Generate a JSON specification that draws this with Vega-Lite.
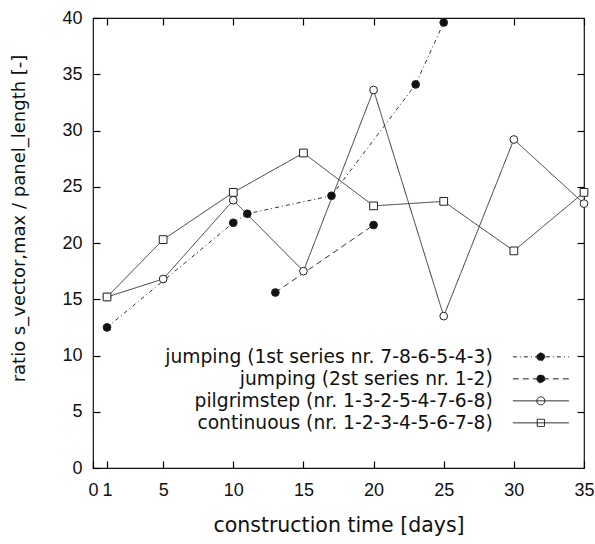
{
  "$schema": "https://vega.github.io/schema/vega-lite/v6.json",
  "width": 491,
  "height": 450,
  "autosize": {"type": "none"},
  "padding": {"left": 93, "top": 18, "right": 11, "bottom": 76},
  "background": "white",
  "config": {
    "view": {"stroke": "#111", "strokeWidth": 1.2, "fill": "transparent"},
    "axis": {"grid": false, "domain": false, "ticks": true, "tickColor": "black", "tickWidth": 1.2, "tickOpacity": 1, "labelColor": "#111", "titleColor": "#111", "zindex": 1}
  },
  "data": {
    "values": [
      {"series": "jumping (1st series nr. 7-8-6-5-4-3)", "x": 1, "y": 12.5},
      {"series": "jumping (1st series nr. 7-8-6-5-4-3)", "x": 10, "y": 21.8},
      {"series": "jumping (1st series nr. 7-8-6-5-4-3)", "x": 11, "y": 22.6},
      {"series": "jumping (1st series nr. 7-8-6-5-4-3)", "x": 17, "y": 24.2},
      {"series": "jumping (1st series nr. 7-8-6-5-4-3)", "x": 23, "y": 34.1},
      {"series": "jumping (1st series nr. 7-8-6-5-4-3)", "x": 25, "y": 39.6},
      {"series": "jumping (2st series nr. 1-2)", "x": 13, "y": 15.6},
      {"series": "jumping (2st series nr. 1-2)", "x": 20, "y": 21.6},
      {"series": "pilgrimstep (nr. 1-3-2-5-4-7-6-8)", "x": 1, "y": 15.2},
      {"series": "pilgrimstep (nr. 1-3-2-5-4-7-6-8)", "x": 5, "y": 16.8},
      {"series": "pilgrimstep (nr. 1-3-2-5-4-7-6-8)", "x": 10, "y": 23.8},
      {"series": "pilgrimstep (nr. 1-3-2-5-4-7-6-8)", "x": 15, "y": 17.5},
      {"series": "pilgrimstep (nr. 1-3-2-5-4-7-6-8)", "x": 20, "y": 33.6},
      {"series": "pilgrimstep (nr. 1-3-2-5-4-7-6-8)", "x": 25, "y": 13.5},
      {"series": "pilgrimstep (nr. 1-3-2-5-4-7-6-8)", "x": 30, "y": 29.2},
      {"series": "pilgrimstep (nr. 1-3-2-5-4-7-6-8)", "x": 35, "y": 23.5},
      {"series": "continuous (nr. 1-2-3-4-5-6-7-8)", "x": 1, "y": 15.2},
      {"series": "continuous (nr. 1-2-3-4-5-6-7-8)", "x": 5, "y": 20.3},
      {"series": "continuous (nr. 1-2-3-4-5-6-7-8)", "x": 10, "y": 24.5},
      {"series": "continuous (nr. 1-2-3-4-5-6-7-8)", "x": 15, "y": 28.0},
      {"series": "continuous (nr. 1-2-3-4-5-6-7-8)", "x": 20, "y": 23.3},
      {"series": "continuous (nr. 1-2-3-4-5-6-7-8)", "x": 25, "y": 23.7},
      {"series": "continuous (nr. 1-2-3-4-5-6-7-8)", "x": 30, "y": 19.3},
      {"series": "continuous (nr. 1-2-3-4-5-6-7-8)", "x": 35, "y": 24.5}
    ]
  },
  "resolve": {"axis": {"x": "independent", "y": "independent"}},
  "layer": [
    {
      "mark": {"type": "line", "stroke": "#333", "strokeWidth": 1},
      "encoding": {
        "x": {"field": "x", "type": "quantitative",
          "scale": {"domain": [0, 35], "nice": false, "zero": false},
          "axis": {"orient": "bottom", "values": [0, 1, 5, 10, 15, 20, 25, 30, 35], "offset": -7, "ticks": true, "tickSize": 7, "labelPadding": 13, "zindex": 1,
            "labelFont": "Liberation Sans", "labelFontSize": 18, "labelOverlap": false, "labelFlush": false,
            "title": "construction time [days]", "titleFont": "DejaVu Sans", "titleFontSize": 20.5, "titleFontWeight": "normal", "titlePadding": 16}},
        "y": {"field": "y", "type": "quantitative",
          "scale": {"domain": [0, 40], "nice": false},
          "axis": {"orient": "left", "values": [0, 5, 10, 15, 20, 25, 30, 35, 40], "offset": -7, "ticks": true, "tickSize": 7, "labelPadding": 11, "zindex": 1,
            "labelFont": "Liberation Sans", "labelFontSize": 18, "labelOverlap": false, "labelFlush": false,
            "title": "ratio s_vector,max / panel_length [-]", "titleFont": "DejaVu Sans", "titleFontSize": 18, "titleFontWeight": "normal", "titlePadding": 33, "titleY": 200}},
        "strokeDash": {"field": "series", "type": "nominal",
          "scale": {"domain": ["jumping (1st series nr. 7-8-6-5-4-3)", "jumping (2st series nr. 1-2)", "pilgrimstep (nr. 1-3-2-5-4-7-6-8)", "continuous (nr. 1-2-3-4-5-6-7-8)"],
            "range": [[4, 3, 1, 3], [6, 4], [1, 0], [1, 0]]},
          "legend": {"orient": "none", "legendX": 438.5, "legendY": 329.5, "title": null, "padding": 0, "rowPadding": 2,
            "labelAlign": "right", "labelOffset": -57.5, "labelFont": "DejaVu Sans", "labelFontSize": 18.7, "labelColor": "#111", "labelLimit": 500,
            "symbolSize": 64, "symbolStrokeWidth": 1, "symbolStrokeColor": "#222",
            "symbolType": {"expr": "datum.value == 'continuous (nr. 1-2-3-4-5-6-7-8)' ? 'M-7,0H7M-0.9,-0.9H0.9V0.9H-0.9Z' : 'M-7,0H7M-1,0A1,1 0 1,0 1,0A1,1 0 1,0 -1,0Z'"}}}
      }
    },
    {
      "transform": [{"filter": "datum.series != 'continuous (nr. 1-2-3-4-5-6-7-8)'"}],
      "mark": {"type": "point", "shape": "circle", "filled": true, "stroke": "#222", "strokeWidth": 1, "size": 60, "opacity": 1},
      "encoding": {
        "x": {"field": "x", "type": "quantitative",
          "axis": {"orient": "top", "values": [1, 5, 10, 15, 20, 25, 30, 35], "offset": -7, "ticks": true, "tickSize": 7, "labels": false, "title": null, "zindex": 1}},
        "y": {"field": "y", "type": "quantitative",
          "axis": {"orient": "right", "values": [5, 10, 15, 20, 25, 30, 35], "offset": -7, "ticks": true, "tickSize": 7, "labels": false, "title": null, "zindex": 1}},
        "fill": {"field": "series", "type": "nominal",
          "scale": {"domain": ["jumping (1st series nr. 7-8-6-5-4-3)", "jumping (2st series nr. 1-2)", "pilgrimstep (nr. 1-3-2-5-4-7-6-8)", "continuous (nr. 1-2-3-4-5-6-7-8)"],
            "range": ["#111", "#111", "white", "white"]},
          "legend": {"orient": "none", "legendX": 438.5, "legendY": 329.5, "title": null, "padding": 0, "rowPadding": 2,
            "labelAlign": "right", "labelOffset": -57.5, "labelFont": "DejaVu Sans", "labelFontSize": 18.7, "labelColor": "#111", "labelLimit": 500,
            "symbolSize": 64, "symbolStrokeWidth": 1, "symbolStrokeColor": "#222",
            "symbolType": {"expr": "datum.value == 'continuous (nr. 1-2-3-4-5-6-7-8)' ? 'M-7,0H7M-0.9,-0.9H0.9V0.9H-0.9Z' : 'M-7,0H7M-1,0A1,1 0 1,0 1,0A1,1 0 1,0 -1,0Z'"}}}
      }
    },
    {
      "transform": [{"filter": "datum.series == 'continuous (nr. 1-2-3-4-5-6-7-8)'"}],
      "mark": {"type": "point", "shape": "square", "filled": true, "stroke": "#222", "strokeWidth": 1, "size": 60, "opacity": 1},
      "encoding": {
        "x": {"field": "x", "type": "quantitative", "axis": null},
        "y": {"field": "y", "type": "quantitative", "axis": null},
        "fill": {"field": "series", "type": "nominal",
          "scale": {"domain": ["jumping (1st series nr. 7-8-6-5-4-3)", "jumping (2st series nr. 1-2)", "pilgrimstep (nr. 1-3-2-5-4-7-6-8)", "continuous (nr. 1-2-3-4-5-6-7-8)"],
            "range": ["#111", "#111", "white", "white"]},
          "legend": {"orient": "none", "legendX": 438.5, "legendY": 329.5, "title": null, "padding": 0, "rowPadding": 2,
            "labelAlign": "right", "labelOffset": -57.5, "labelFont": "DejaVu Sans", "labelFontSize": 18.7, "labelColor": "#111", "labelLimit": 500,
            "symbolSize": 64, "symbolStrokeWidth": 1, "symbolStrokeColor": "#222",
            "symbolType": {"expr": "datum.value == 'continuous (nr. 1-2-3-4-5-6-7-8)' ? 'M-7,0H7M-0.9,-0.9H0.9V0.9H-0.9Z' : 'M-7,0H7M-1,0A1,1 0 1,0 1,0A1,1 0 1,0 -1,0Z'"}}}
      }
    }
  ]
}
